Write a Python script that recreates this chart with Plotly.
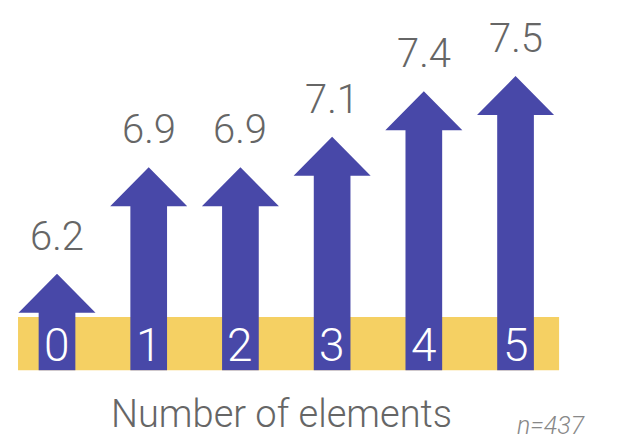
import plotly.graph_objects as go

# Average score by number of elements
categories = ["0", "1", "2", "3", "4", "5"]
values = [6.2, 6.9, 6.9, 7.1, 7.4, 7.5]
value_labels = ["6.2", "6.9", "6.9", "7.1", "7.4", "7.5"]
axis_title = "Number of elements"
sample_note = "n=437"

ARROW = "#4848A8"
BAND = "#F5D063"
TEXT = "#666666"
FONT = "Roboto Light, Roboto"

# geometry of the arrows (x in category units, y in value units)
base = 5.565          # foot of every shaft
shaft_half = 0.20
head_half = 0.42
head_len = 0.256
band_bottom, band_top = 5.565, 5.915
band_left, band_right = -0.425, 5.475

fig = go.Figure()

for i, v in enumerate(values):
    neck = v - head_len
    xs = [i - shaft_half, i - shaft_half, i - head_half, i, i + head_half,
          i + shaft_half, i + shaft_half, i - shaft_half]
    ys = [base, neck, neck, v, neck, neck, base, base]
    fig.add_trace(go.Scatter(
        x=xs, y=ys, mode="lines", fill="toself",
        fillcolor=ARROW, line=dict(color=ARROW, width=0),
        hoverinfo="skip", showlegend=False,
    ))
    # value above the arrow head
    fig.add_annotation(
        x=i, y=v, text=value_labels[i], showarrow=False,
        yanchor="bottom", yshift=12,
        font=dict(family=FONT, size=40, color=TEXT, weight=300),
    )
    # category number inside the shaft
    fig.add_annotation(
        x=i, y=(band_bottom + band_top) / 2, text=categories[i], showarrow=False,
        yanchor="middle", yshift=-1,
        font=dict(family=FONT, size=46, color="white", weight=300),
    )

# yellow band behind the shafts
fig.add_shape(
    type="rect", xref="x", yref="y", layer="below",
    x0=band_left, x1=band_right, y0=band_bottom, y1=band_top,
    fillcolor=BAND, line=dict(width=0),
)

fig.add_annotation(
    xref="paper", yref="paper", x=0.454, y=0.062, text=axis_title,
    showarrow=False, xanchor="center", yanchor="middle",
    font=dict(family=FONT, size=38, color=TEXT, weight=300),
)
fig.add_annotation(
    xref="paper", yref="paper", x=0.888, y=0.036, text=f"<i>{sample_note}</i>",
    showarrow=False, xanchor="center", yanchor="middle",
    font=dict(family=FONT, size=25, color="#888888", weight=300),
)

fig.update_xaxes(range=[-0.6216, 6.150], visible=False, fixedrange=True)
fig.update_yaxes(range=[5.1, 8.0], visible=False, fixedrange=True)
fig.update_layout(
    width=621, height=441,
    margin=dict(l=0, r=0, t=0, b=0),
    paper_bgcolor="white", plot_bgcolor="white",
)

fig.write_html("out.html")
